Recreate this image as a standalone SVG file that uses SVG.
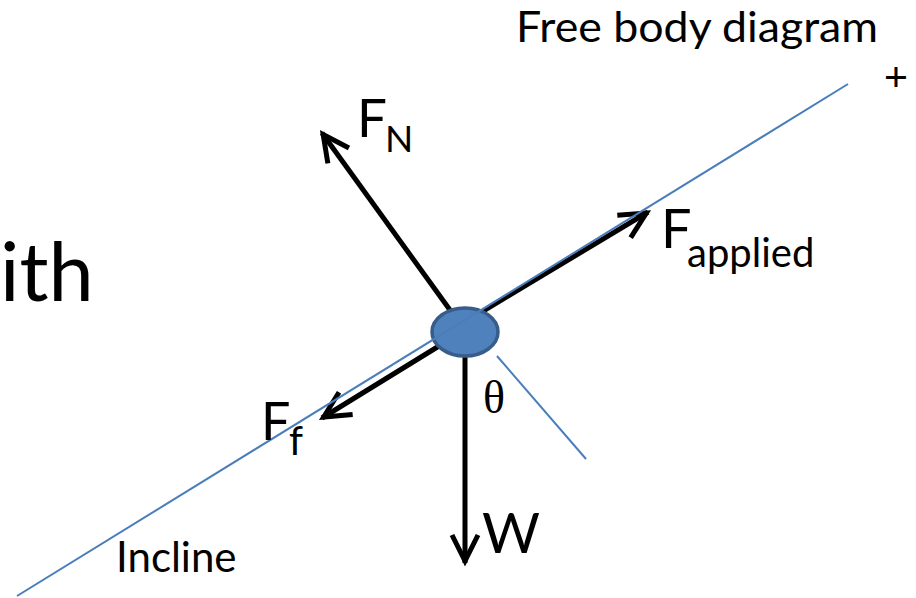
<svg xmlns="http://www.w3.org/2000/svg" width="916" height="598" viewBox="0 0 916 598">
  <style>
    .t { font-family: Lato, "Liberation Sans", sans-serif; fill: #000; }
    .force { stroke: #000; stroke-width: 5; fill: none; marker-end: url(#open); }
    .blue { stroke: #4A7EBB; stroke-width: 2; fill: none; }
  </style>
  <defs>
    <marker id="open" markerUnits="strokeWidth" orient="auto" refX="0.4" refY="0" markerWidth="8" markerHeight="8" overflow="visible">
      <path d="M-5.2,-2.6 L0,0 L-5.2,2.6" fill="none" stroke="#000" stroke-width="1"/>
    </marker>
  </defs>
  <rect width="916" height="598" fill="#fff"/>

  <g id="title">
    <text class="t" x="516" y="42" font-size="43" textLength="362" lengthAdjust="spacingAndGlyphs">Free body diagram</text>
  </g>
  <g id="plus">
    <text x="896" y="91" font-size="41" text-anchor="middle" font-family="'Liberation Sans', sans-serif">+</text>
  </g>
  <g id="with-fragment">
    <text class="t" x="0" y="301" font-size="81">ith</text>
  </g>

  <g id="connectors">
    <line id="arrow-FN" class="force" x1="463" y1="328" x2="322" y2="133"/>
    <line id="arrow-Fapplied" class="force" x1="465" y1="322" x2="648" y2="212"/>
    <line id="arrow-Ff" class="force" x1="465" y1="330" x2="322" y2="418"/>
    <line id="arrow-W" class="force" stroke-width="4" x1="465" y1="340" x2="465" y2="563"/>
  </g>

  <g id="body">
    <ellipse cx="465" cy="332" rx="33" ry="24" fill="#4F81BD" stroke="#385D8A" stroke-width="3.5"/>
  </g>

  <g id="incline">
    <line class="blue" x1="17" y1="596" x2="848" y2="84"/>
    <text class="t" x="116" y="572" font-size="42">Incline</text>
  </g>
  <g id="angle">
    <line class="blue" stroke-width="1.8" x1="497" y1="356" x2="586" y2="459"/>
    <text x="483" y="413" font-size="46" font-family="'Liberation Serif', serif">θ</text>
  </g>

  <g id="label-FN">
    <text class="t" x="357" y="137" font-size="53">F</text>
    <text class="t" x="385" y="152" font-size="37">N</text>
  </g>
  <g id="label-Fapplied">
    <text class="t" x="661" y="248" font-size="54">F</text>
    <text class="t" x="687" y="267" font-size="40">applied</text>
  </g>
  <g id="label-Ff">
    <text class="t" x="261" y="440" font-size="52">F</text>
    <text class="t" x="289" y="455" font-size="40">f</text>
  </g>
  <g id="label-W">
    <text class="t" x="482" y="553" font-size="56">W</text>
  </g>
</svg>
